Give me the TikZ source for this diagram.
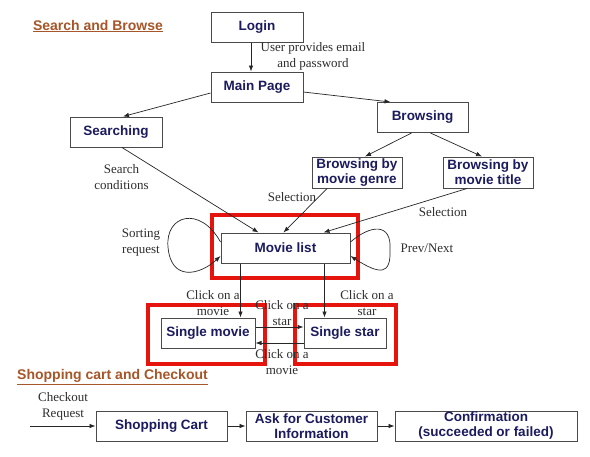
\documentclass[tikz,border=0pt]{standalone}
\usepackage{fontspec}
\setmainfont{Liberation Serif}
\setsansfont{Liberation Sans}
\usetikzlibrary{arrows.meta}
\usepackage{xcolor}
\definecolor{boxtext}{HTML}{1B1B5E}
\definecolor{boxline}{HTML}{4A4A4A}
\definecolor{hilite}{HTML}{E5140C}
\definecolor{heading}{HTML}{A65628}
\definecolor{labeltext}{HTML}{2E2E2E}

\begin{document}
\begin{tikzpicture}[x=1pt,y=-1pt,
    box/.style={draw=boxline, line width=1pt, fill=white, text=boxtext,
        font=\sffamily\bfseries\fontsize{13.5}{15}\selectfont, align=center,
        minimum height=30pt, inner sep=0pt},
    lbl/.style={text=labeltext, font=\fontsize{13}{16}\selectfont, align=center, inner sep=0pt},
    head/.style={text=heading, font=\sffamily\bfseries\fontsize{14}{16}\selectfont, inner sep=0pt},
    arr/.style={-{Latex[length=6pt,width=4.5pt]}, line width=0.7pt, draw=black!85},
    hlbox/.style={draw=hilite, line width=4pt}]
    \useasboundingbox[fill=white] (0,0) rectangle (590,456);
    % search and browse
    \node[head] at (98,26) (T1) {\underline{Search and Browse}};
    \node[box, minimum width=92] at (257,27) (Login) {Login};
    \node[box, minimum width=92] at (257,87) (Main) {Main Page};
    \node[box, minimum width=92] at (116,132) (Search) {Searching};
    \node[box, minimum width=91] at (422.5,117.5) (Browse) {Browsing};
    \node[box, minimum width=90, minimum height=31] at (357,172.5) (Genre) {Browsing by\\movie genre};
    \node[box, minimum width=90, minimum height=31] at (488,172.5) (Title) {Browsing by\\movie title};
    \node[box, minimum width=129] at (285.5,248) (List) {Movie list};
    \node[box, minimum width=94] at (208,333) (Movie) {Single movie};
    \node[box, minimum width=82] at (345,333) (Star) {Single star};
    % highlights
    \draw[hlbox] (212,215) rectangle (358,278);
    \draw[hlbox] (148,305) rectangle (265,364);
    \draw[hlbox] (295,305) rectangle (396,364);
    % labels
    \node[lbl] at (313,56.5) (Lemail) {User provides email\\and password};
    \node[lbl] at (121.5,177) (Lcond) {Search\\conditions};
    \node[lbl] at (292,197) (Lsel1) {Selection};
    \node[lbl] at (443,212) (Lsel2) {Selection};
    \node[lbl] at (141,242.5) (Lsort) {Sorting\\request};
    \node[lbl] at (427,248) (Lprev) {Prev/Next};
    \node[lbl] at (213,303) (Lcm1) {Click on a\\movie};
    \node[lbl] at (367,303) (Lcs1) {Click on a\\star};
    \node[lbl] at (282,313) (Lcs2) {Click on a\\star};
    \node[lbl] at (282,362) (Lcm2) {Click on a\\movie};
    \draw[arr] ([xshift=-6]Login.south) -- ([xshift=-6]Main.north);
    \draw[arr] ([yshift=-6]Main.west) -- ([xshift=7]Search.north);
    \draw[arr] ([yshift=-5]Main.east) -- ([xshift=-32]Browse.north);
    \draw[arr] ([xshift=-11]Browse.south) -- ([xshift=8]Genre.north);
    \draw[arr] ([xshift=8]Browse.south) -- ([xshift=-6]Title.north);
    \draw[arr] ([xshift=6]Search.south) -- ([xshift=-27]List.north);
    \draw[arr] ([xshift=-30]Genre.south) -- ([xshift=-2]List.north);
    \draw[arr] ([xshift=-21]Title.south) -- ([xshift=38]List.north);
    \draw[arr] ([yshift=6]List.west) .. controls (200,205) and (165,215) .. (168,247)
        .. controls (171,282) and (200,275) .. ([yshift=-8]List.west);
    \draw[arr] ([yshift=6]List.east) .. controls (370,225) and (392,222) .. (390,250)
        .. controls (391,275) and (380,275) .. ([yshift=-8]List.east);
    \draw[arr] ([xshift=-45]List.south) -- ([xshift=-45]List.south |- Movie.north);
    \draw[arr] ([xshift=39]List.south) -- ([xshift=39]List.south |- Star.north);
    \draw[arr] ([yshift=6]Movie.east) -- ([yshift=6]Movie.east -| Star.west);
    \draw[arr] ([yshift=-10]Star.west) -- ([yshift=-10]Star.west -| Movie.east);
    % shopping cart and checkout
    \node[head] at (112.5,377) (T2) {\underline{Shopping cart and Checkout}};
    \node[box, minimum width=131] at (161.5,426) (Cart) {Shopping Cart};
    \node[box, minimum width=131] at (311.5,426) (Ask) {Ask for Customer\\Information};
    \node[box, minimum width=182] at (486,426) (Confirm) {Confirmation\\(succeeded or failed)};
    \node[lbl] at (63,406) (Lcheck) {Checkout\\Request};
    \coordinate (Cstart) at (30,426);
    \draw[arr] (Cstart) -- (Cart);
    \draw[arr] (Cart) -- (Ask);
    \draw[arr] (Ask) -- (Confirm);
\end{tikzpicture}
\end{document}
